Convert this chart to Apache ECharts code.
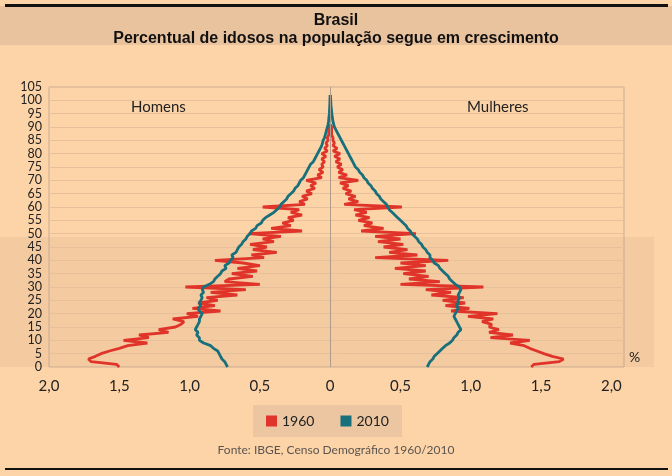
<!DOCTYPE html>
<html lang="pt">
<head>
    <meta charset="UTF-8">
    <title>Brasil - pirâmide etária 1960/2010</title>
    <style>
        html, body {
            margin: 0;
            padding: 0;
            width: 100%;
            height: 100%;
            overflow: hidden;
            background-color: #FDD4A8;
        }
        #chart {
            width: 672px;
            height: 476px;
        }
    </style>
</head>
<body>
<div id="chart"></div>

<script src="https://cdn.jsdelivr.net/npm/echarts/dist/echarts.min.js"></script>
<script>
    // percentual da população por idade simples (índice = idade)
    var homens1960 = [
        1.50, 1.52, 1.70, 1.72, 1.67, 1.63, 1.57, 1.50, 1.44, 1.30,
        1.47, 1.29, 1.36, 1.15, 1.22, 1.10, 1.06, 1.04, 1.12, 0.94,
        1.02, 0.78, 0.98, 0.82, 0.94, 0.80, 0.88, 0.66, 0.85, 0.60,
        1.03, 0.50, 0.75, 0.72, 0.55, 0.70, 0.52, 0.66, 0.50, 0.62,
        0.82, 0.47, 0.56, 0.38, 0.55, 0.45, 0.57, 0.40, 0.48, 0.35,
        0.58, 0.20, 0.42, 0.28, 0.34, 0.26, 0.30, 0.20, 0.28, 0.22,
        0.48, 0.18, 0.22, 0.16, 0.20, 0.13, 0.17, 0.11, 0.14, 0.10,
        0.17, 0.06, 0.09, 0.05, 0.08, 0.05, 0.06, 0.04, 0.06, 0.03,
        0.06, 0.02, 0.04, 0.02, 0.03, 0.015, 0.02, 0.01, 0.01, 0.005,
        0.01, 0
    ];
    var mulheres1960 = [
        1.43, 1.45, 1.63, 1.66, 1.58, 1.52, 1.47, 1.42, 1.38, 1.28,
        1.42, 1.14, 1.30, 1.13, 1.20, 1.13, 1.15, 1.08, 1.16, 0.98,
        1.19, 0.86, 0.99, 0.82, 0.96, 0.80, 0.95, 0.72, 0.86, 0.68,
        1.09, 0.50, 0.78, 0.56, 0.70, 0.52, 0.68, 0.46, 0.68, 0.50,
        0.84, 0.32, 0.62, 0.42, 0.55, 0.38, 0.52, 0.34, 0.50, 0.32,
        0.61, 0.22, 0.38, 0.24, 0.30, 0.20, 0.28, 0.18, 0.26, 0.17,
        0.51, 0.10, 0.20, 0.13, 0.18, 0.11, 0.15, 0.09, 0.13, 0.07,
        0.20, 0.06, 0.12, 0.06, 0.09, 0.05, 0.08, 0.04, 0.07, 0.03,
        0.07, 0.02, 0.05, 0.02, 0.03, 0.02, 0.02, 0.01, 0.01, 0.01,
        0.01, 0
    ];
    var homens2010 = [
        0.73, 0.74, 0.75, 0.77, 0.78, 0.79, 0.80, 0.83, 0.85, 0.90,
        0.93, 0.93, 0.95, 0.94, 0.96, 0.95, 0.94, 0.93, 0.93, 0.92,
        0.91, 0.93, 0.94, 0.92, 0.93, 0.92, 0.91, 0.92, 0.90, 0.91,
        0.90, 0.86, 0.83, 0.82, 0.80, 0.78, 0.77, 0.74, 0.75, 0.72,
        0.71, 0.69, 0.70, 0.67, 0.66, 0.65, 0.63, 0.62, 0.60, 0.59,
        0.57, 0.56, 0.53, 0.52, 0.49, 0.48, 0.46, 0.43, 0.40, 0.38,
        0.36, 0.35, 0.33, 0.31, 0.30, 0.28, 0.26, 0.25, 0.23, 0.22,
        0.21, 0.19, 0.18, 0.17, 0.16, 0.15, 0.14, 0.12, 0.11, 0.10,
        0.09, 0.08, 0.07, 0.06, 0.055, 0.05, 0.04, 0.035, 0.03, 0.025,
        0.02, 0.015, 0.012, 0.01, 0.008, 0.006, 0.005, 0.004, 0.003, 0.002,
        0.002, 0.001, 0
    ];
    var mulheres2010 = [
        0.69, 0.70, 0.71, 0.73, 0.74, 0.76, 0.78, 0.80, 0.82, 0.85,
        0.87, 0.88, 0.90, 0.91, 0.93, 0.92, 0.91, 0.90, 0.89, 0.88,
        0.89, 0.90, 0.91, 0.90, 0.91, 0.91, 0.92, 0.91, 0.92, 0.93,
        0.92, 0.89, 0.87, 0.85, 0.84, 0.82, 0.80, 0.78, 0.77, 0.74,
        0.73, 0.71, 0.71, 0.69, 0.68, 0.66, 0.65, 0.63, 0.62, 0.60,
        0.58, 0.57, 0.55, 0.54, 0.52, 0.50, 0.48, 0.46, 0.44, 0.42,
        0.41, 0.40, 0.38, 0.36, 0.35, 0.33, 0.32, 0.30, 0.29, 0.27,
        0.26, 0.24, 0.23, 0.21, 0.20, 0.18, 0.17, 0.16, 0.15, 0.14,
        0.13, 0.12, 0.11, 0.10, 0.09, 0.08, 0.07, 0.06, 0.05, 0.04,
        0.03, 0.025, 0.02, 0.017, 0.014, 0.012, 0.01, 0.008, 0.006, 0.005,
        0.004, 0.002, 0
    ];
    var anos = ['1960', '2010'];
    var xTicks = [-2, -1.5, -1, -0.5, 0, 0.5, 1, 1.5, 2];

    function pontos(valores, lado) {
        return valores.map(function (v, idade) {
            return [lado * v, idade];
        });
    }

    var chart = echarts.init(document.getElementById('chart'));

    var vermelho = '#E0342A';
    var azul = '#17707B';
    var fonte = 'Lato, "DejaVu Sans", sans-serif';

    chart.setOption({
        backgroundColor: '#FDD4A8',
        animation: false,
        title: {
            text: 'Brasil',
            subtext: 'Percentual de idosos na população segue em crescimento',
            left: 'center',
            top: 8,
            itemGap: 2,
            textStyle: {
                fontFamily: 'Liberation Sans, Arial, sans-serif',
                fontSize: 16,
                fontWeight: 'bold',
                color: '#111'
            },
            subtextStyle: {
                fontFamily: 'Liberation Sans, Arial, sans-serif',
                fontSize: 16,
                fontWeight: 'bold',
                color: '#111'
            }
        },
        legend: {
            data: anos,
            top: 405,
            left: 253,
            icon: 'rect',
            itemWidth: 11,
            itemHeight: 11,
            itemGap: 26,
            padding: [9, 13, 9, 13],
            backgroundColor: '#EBC6A1',
            textStyle: {
                fontFamily: fonte,
                fontSize: 14,
                color: '#222'
            }
        },
        graphic: [
            {
                type: 'rect', z: -10, silent: true,
                shape: {x: 0, y: 6, width: 672, height: 39},
                style: {fill: '#E9C29E'}
            },
            {
                type: 'rect', z: -9, silent: true,
                shape: {x: 0, y: 237, width: 654, height: 130},
                style: {fill: 'rgba(140,105,85,0.08)'}
            },
            {
                type: 'rect', silent: true,
                shape: {x: 5, y: 4, width: 663, height: 3},
                style: {fill: '#111'}
            },
            {
                type: 'rect', silent: true,
                shape: {x: 5, y: 468, width: 663, height: 2},
                style: {fill: '#111'}
            },
            {
                type: 'text', left: 131, top: 100, silent: true,
                style: {text: 'Homens', font: '15px ' + fonte, fill: '#222'}
            },
            {
                type: 'text', left: 467, top: 100, silent: true,
                style: {text: 'Mulheres', font: '15px ' + fonte, fill: '#222'}
            },
            {
                type: 'text', left: 629, top: 350, silent: true,
                style: {text: '%', font: '14px ' + fonte, fill: '#222'}
            },
            {
                type: 'text', left: 'center', top: 444, silent: true,
                style: {text: 'Fonte: IBGE, Censo Demográfico 1960/2010', font: '12px ' + fonte, fill: '#5b5550'}
            }
        ],
        grid: {
            left: 49,
            right: 48,
            top: 87,
            bottom: 109,
            show: true,
            borderColor: '#C7AA92',
            borderWidth: 1
        },
        xAxis: {
            type: 'value',
            min: -2,
            max: 2.09,
            interval: 0.5,
            axisLine: {show: false},
            axisTick: {show: false},
            splitLine: {show: false},
            axisLabel: {
                margin: 12,
                fontFamily: fonte,
                fontSize: 15,
                color: '#222',
                formatter: function (v) {
                    var ok = xTicks.some(function (t) {
                        return Math.abs(t - v) < 1e-6;
                    });
                    if (!ok) {
                        return '';
                    }
                    return v === 0 ? '0' : Math.abs(v).toFixed(1).replace('.', ',');
                }
            }
        },
        yAxis: {
            type: 'value',
            min: 0,
            max: 105,
            interval: 5,
            axisLine: {show: true, lineStyle: {color: '#C7AA92'}},
            axisTick: {show: false},
            splitLine: {lineStyle: {color: '#E6C09B', width: 1}},
            axisLabel: {
                margin: 7,
                showMinLabel: true,
                showMaxLabel: true,
                hideOverlap: false,
                fontFamily: fonte,
                fontSize: 12.5,
                lineHeight: 10,
                color: '#222'
            }
        },
        series: [
            {
                name: '1960', type: 'line', showSymbol: false,
                data: pontos(homens1960, -1),
                lineStyle: {color: vermelho, width: 2.8},
                itemStyle: {color: vermelho},
                markLine: {
                    silent: true, symbol: 'none', label: {show: false},
                    lineStyle: {color: '#B09C8C', width: 1, type: 'solid'},
                    data: [{xAxis: 0}]
                }
            },
            {
                name: '1960', type: 'line', showSymbol: false,
                data: pontos(mulheres1960, 1),
                lineStyle: {color: vermelho, width: 2.8},
                itemStyle: {color: vermelho}
            },
            {
                name: '2010', type: 'line', showSymbol: false,
                data: pontos(homens2010, -1),
                lineStyle: {color: azul, width: 2.8},
                itemStyle: {color: azul}
            },
            {
                name: '2010', type: 'line', showSymbol: false,
                data: pontos(mulheres2010, 1),
                lineStyle: {color: azul, width: 2.8},
                itemStyle: {color: azul}
            }
        ]
    });
</script>
</body>
</html>
